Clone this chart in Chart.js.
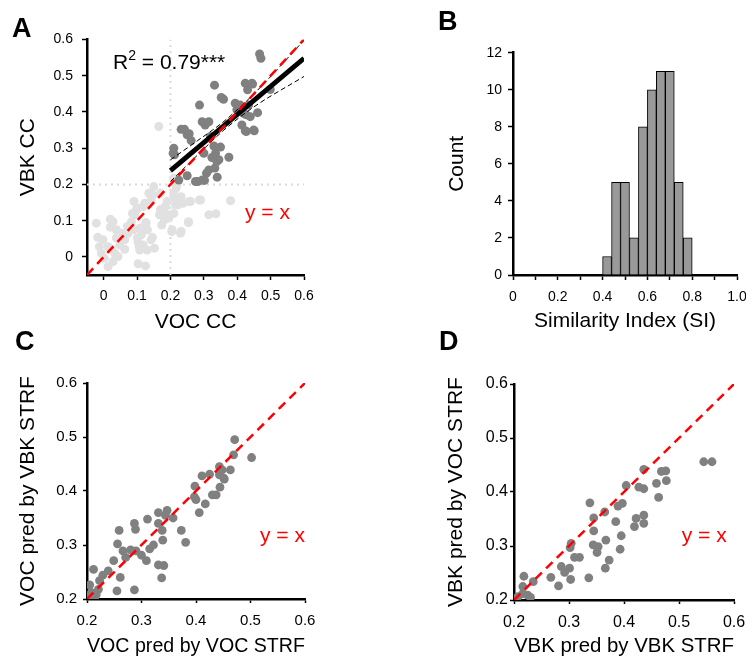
<!DOCTYPE html>
<html>
<head>
<meta charset="utf-8">
<script src="https://cdn.jsdelivr.net/npm/chart.js@4.4.1/dist/chart.umd.min.js"></script>
<style>
  html, body { margin: 0; padding: 0; background: #fff; overflow: hidden; }
  #fig { position: relative; width: 746px; height: 662px; overflow: hidden; background: #fff; }
  #fig canvas { position: absolute; }
</style>
</head>
<body>
<div id="fig">
  <canvas id="chartA" width="373" height="335" style="left:0;top:0"></canvas>
  <canvas id="chartB" width="400" height="335" style="left:373px;top:0"></canvas>
  <canvas id="chartC" width="373" height="337" style="left:0;top:325px"></canvas>
  <canvas id="chartD" width="400" height="337" style="left:373px;top:325px"></canvas>
</div>
<script>
// ---- Panel A: VOC CC vs VBK CC ----
// cells above 0.2 on both axes (dark)
const vocHi = [0.467,0.471,0.332,0.424,0.444,0.431,0.499,0.352,0.359,0.287,0.394,0.409,0.434,0.399,0.419,0.461,0.439,0.295,0.304,0.414,0.424,0.451,0.232,0.250,0.262,0.320,0.330,0.350,0.210,0.208,0.335,0.375,0.345,0.300,0.315,0.340,0.250,0.275,0.295,0.225,0.308,0.242,0.256,0.212,0.324,0.339,0.333,0.427,0.449,0.427,0.446,0.315,0.282,0.302];
const vbkHi = [0.560,0.548,0.474,0.479,0.479,0.461,0.462,0.440,0.435,0.419,0.424,0.419,0.419,0.406,0.396,0.398,0.387,0.373,0.364,0.364,0.348,0.348,0.352,0.337,0.321,0.332,0.306,0.303,0.300,0.286,0.286,0.275,0.268,0.286,0.240,0.220,0.224,0.208,0.212,0.212,0.231,0.352,0.340,0.282,0.274,0.263,0.245,0.392,0.350,0.346,0.477,0.373,0.208,0.211];
// remaining cells (light)
const vocLo = [0.165,0.380,0.336,0.287,0.257,0.232,0.237,0.222,0.217,0.210,0.254,0.232,0.204,0.210,0.192,0.182,0.174,0.170,0.167,0.185,0.147,0.142,0.123,0.118,0.091,0.098,0.093,0.083,0.127,0.108,0.113,0.103,0.118,0.142,0.152,0.130,0.108,0.103,0.125,0.028,0.020,0.038,0.053,0.063,0.038,0.048,0.063,0.023,0.033,0.013,-0.002,-0.013,-0.018,-0.022,-0.007,0.002,0.013,0.028,0.043,0.071,0.073,0.020,0.089,0.101,0.126,0.131,0.146,0.106,0.210,0.220,0.210,0.230,0.215,0.190,0.180,0.195,0.205,0.230,0.254,0.260,0.290,0.315,0.135,0.150,0.170,0.086,0.101];
const vbkLo = [0.360,0.155,0.119,0.157,0.153,0.166,0.148,0.144,0.190,0.159,0.095,0.070,0.070,0.120,0.116,0.102,0.088,0.130,0.116,0.139,0.171,0.157,0.148,0.139,0.153,0.130,0.116,0.097,0.093,0.079,0.061,0.042,0.033,0.047,0.024,0.019,0.019,-0.019,-0.025,0.097,0.082,0.075,0.065,0.047,0.052,0.033,0.021,0.021,0.010,0.028,0.047,0.028,0.054,0.093,0.010,-0.004,-0.027,-0.013,0.001,0.084,0.065,0.104,0.075,0.052,0.095,0.075,0.054,0.030,0.217,0.199,0.176,0.157,0.144,0.153,0.120,0.107,0.075,0.065,0.097,0.153,0.157,0.116,0.176,0.194,0.176,0.120,0.134];
// regression fit and its confidence band
const fitX = [0.2, 0.6];
const fitY = [0.238, 0.548];
const bandX = [0.2, 0.28, 0.36, 0.45, 0.6];
const bandUp = [0.268, 0.320, 0.374, 0.450, 0.598];
const bandLow = [0.208, 0.280, 0.350, 0.414, 0.498];
const ticksA = [0, 0.1, 0.2, 0.3, 0.4, 0.5, 0.6];

// ---- Panel B: similarity index histogram ----
const simBinCenters = [0.42, 0.46, 0.50, 0.54, 0.58, 0.62, 0.66, 0.70, 0.74, 0.78];
const simCounts = [1, 5, 5, 2, 8, 10, 11, 11, 5, 2];
const ticksSI = [0, 0.1, 0.2, 0.3, 0.4, 0.5, 0.6, 0.7, 0.8, 0.9, 1.0];
const ticksCount = [0, 2, 4, 6, 8, 10, 12];

// ---- Panel C: VOC pred by VOC STRF vs by VBK STRF ----
const vocByVoc = [0.471,0.469,0.502,0.443,0.448,0.463,0.411,0.425,0.443,0.452,0.444,0.398,0.397,0.400,0.430,0.437,0.417,0.406,0.331,0.347,0.344,0.358,0.311,0.331,0.287,0.289,0.338,0.373,0.259,0.381,0.339,0.322,0.315,0.256,0.266,0.280,0.290,0.300,0.309,0.271,0.249,0.331,0.341,0.337,0.261,0.239,0.229,0.212,0.223,0.255,0.287,0.205,0.221,0.208,0.217,0.204,0.214,0.451];
const vocByVbk = [0.495,0.467,0.462,0.445,0.439,0.439,0.428,0.431,0.430,0.422,0.407,0.409,0.389,0.384,0.393,0.393,0.376,0.360,0.360,0.364,0.355,0.350,0.348,0.340,0.340,0.329,0.327,0.327,0.327,0.305,0.309,0.300,0.293,0.302,0.289,0.291,0.289,0.281,0.271,0.277,0.271,0.263,0.262,0.239,0.240,0.252,0.244,0.255,0.234,0.215,0.217,0.226,0.218,0.212,0.208,0.205,0.202,0.424];

// ---- Panel D: VBK pred by VBK STRF vs by VOC STRF ----
const vbkByVbk = [0.545,0.560,0.436,0.468,0.476,0.477,0.459,0.463,0.404,0.427,0.436,0.389,0.397,0.338,0.365,0.345,0.385,0.419,0.422,0.436,0.436,0.345,0.367,0.395,0.393,0.344,0.353,0.351,0.373,0.366,0.336,0.304,0.302,0.310,0.319,0.286,0.292,0.301,0.303,0.267,0.281,0.218,0.216,0.235,0.216,0.207,0.225,0.230];
const vbkByVoc = [0.456,0.456,0.442,0.438,0.439,0.421,0.416,0.390,0.412,0.409,0.406,0.374,0.379,0.380,0.363,0.352,0.345,0.336,0.351,0.357,0.342,0.328,0.311,0.319,0.294,0.302,0.299,0.288,0.274,0.259,0.241,0.305,0.297,0.279,0.279,0.262,0.251,0.259,0.238,0.242,0.226,0.244,0.225,0.234,0.212,0.206,0.209,0.205];
const ticksPred = [0.2, 0.3, 0.4, 0.5, 0.6];

const FONT = "'Liberation Sans', Arial, Helvetica, sans-serif";
Chart.defaults.font.family = FONT;
Chart.defaults.color = '#000';

const pts = (xs, ys) => xs.map((x, i) => ({x: x, y: ys[i]}));

// draws panel letters and in-plot notes
const notesPlugin = {
  id: 'notes',
  afterDraw(chart, args, opts) {
    const ctx = chart.ctx;
    (opts.items || []).forEach(it => {
      ctx.save();
      ctx.textBaseline = 'alphabetic';
      ctx.textAlign = 'left';
      ctx.fillStyle = it.color || '#000';
      let x = it.x;
      it.parts.forEach(p => {
        ctx.font = p.font + ' ' + FONT;
        ctx.fillText(p.text, x, it.y + (p.dy || 0));
        x += ctx.measureText(p.text).width;
      });
      ctx.restore();
    });
  }
};

function fmt1(v) { return v === 0 ? '0' : v.toFixed(1); }

function axis(o) {
  return {
    type: 'linear', min: o.min, max: o.max, bounds: 'data', offset: false,
    border: { display: true, color: '#000', width: 2.5 },
    grid: { drawOnChartArea: false, drawTicks: true, tickLength: o.tl || 5, tickWidth: 1.5, tickColor: '#000', offset: false },
    ticks: { font: { size: o.fs || 14 }, color: '#000', padding: o.pad, maxRotation: 0, autoSkip: false, callback: o.fmt || fmt1 },
    afterBuildTicks: s => { s.ticks = o.ticks.map(v => ({value: v})); },
    afterFit: s => { if (o.w) s.width = o.w; if (o.h) s.height = o.h; },
    title: { display: true, text: o.title, font: { size: 21 }, color: '#000', padding: o.tpad }
  };
}

function baseOptions(pad, x, y, notes) {
  return {
    responsive: false, animation: false, devicePixelRatio: 1,
    layout: { padding: pad },
    plugins: { legend: { display: false }, tooltip: { enabled: false }, notes: { items: notes } },
    scales: { x: x, y: y }
  };
}

const letter = (t, x, y) => ({ x: x, y: y, parts: [{ text: t, font: 'bold 27px' }] });
const yEqX = (x, y) => ({ x: x, y: y, color: '#f00', parts: [{ text: 'y = x', font: '21px' }] });

function scatterSet(xs, ys, color, r, order) {
  return { data: pts(xs, ys), backgroundColor: color, borderWidth: 0, pointRadius: r, pointHoverRadius: r, showLine: false, order: order };
}
function lineSet(xs, ys, color, width, dash, order, curve) {
  const d = { data: pts(xs, ys), borderColor: color, borderWidth: width, borderDash: dash, pointRadius: 0, showLine: true, fill: false, order: order };
  if (curve) { d.cubicInterpolationMode = 'monotone'; d.tension = 0.4; }
  return d;
}

// Panel A
new Chart(document.getElementById('chartA'), {
  type: 'scatter',
  data: { datasets: [
    lineSet([0.2, 0.2], [-0.05, 0.6], '#d9d9d9', 2, [2, 4], 9),
    lineSet([-0.05, 0.6], [0.2, 0.2], '#d9d9d9', 2, [2, 4], 9),
    scatterSet(vocLo, vbkLo, '#e1e1e1', 4.5, 8),
    scatterSet(vocHi, vbkHi, '#808080', 4.5, 7),
    lineSet(bandX, bandUp, '#000', 1, [5, 3], 5, true),
    lineSet(bandX, bandLow, '#000', 1, [5, 3], 5, true),
    lineSet(fitX, fitY, '#000', 5, [], 4),
    lineSet([-0.05, 0.6], [-0.05, 0.6], '#f00', 2.5, [9, 6], 3)
  ]},
  options: baseOptions({ left: 0, top: 39.5, right: 69, bottom: 0 },
    axis({ min: -0.05, max: 0.6, ticks: ticksA, pad: 8, h: 60, title: 'VOC CC', tpad: { top: 0, bottom: 0.5 } }),
    axis({ min: -0.05, max: 0.6, ticks: ticksA, pad: 9, w: 87, title: 'VBK CC', tpad: { top: 15.4, bottom: 0 } }),
    [ letter('A', 12, 37),
      { x: 113, y: 69, parts: [ { text: 'R', font: '21px' }, { text: '2', font: '14px', dy: -9 }, { text: ' = 0.79***', font: '21px' } ] },
      yEqX(245, 218.5) ]),
  plugins: [notesPlugin]
});

// Panel B
new Chart(document.getElementById('chartB'), {
  type: 'bar',
  data: { datasets: [{
    data: pts(simBinCenters, simCounts),
    backgroundColor: '#999999', borderColor: '#000', borderWidth: 1,
    barPercentage: 1, categoryPercentage: 1
  }]},
  options: baseOptions({ left: 60, top: 52.7, right: 36, bottom: 0 },
    axis({ min: 0, max: 1, ticks: ticksSI, pad: 9, h: 60, title: 'Similarity Index (SI)', tpad: { top: 0, bottom: 0.9 },
      fmt: v => (Math.round(v * 10) % 2 ? '' : fmt1(v)) }),
    axis({ min: 0, max: 12, ticks: ticksCount, pad: 6, w: 80, title: 'Count', tpad: { top: 11.4, bottom: 0 },
      fmt: v => String(v) }),
    [ letter('B', 65, 30) ]),
  plugins: [notesPlugin]
});

// Panel C
new Chart(document.getElementById('chartC'), {
  type: 'scatter',
  data: { datasets: [
    scatterSet(vocByVoc, vocByVbk, '#808080', 4.4, 5),
    lineSet([0.2, 0.6], [0.2, 0.6], '#f00', 2.5, [9, 6], 3)
  ]},
  options: baseOptions({ left: 0, top: 58, right: 68, bottom: 0 },
    axis({ min: 0.2, max: 0.6, ticks: ticksPred, pad: 9, fs: 15, tl: 4, h: 63, title: 'VOC pred by VOC STRF', tpad: { top: 0, bottom: 3.6 } }),
    axis({ min: 0.2, max: 0.6, ticks: ticksPred, pad: 6, fs: 15, tl: 4, w: 87, title: 'VOC pred by VBK STRF', tpad: { top: 15.7, bottom: 0 } }),
    [ letter('C', 15, 25), yEqX(260, 217) ]),
  plugins: [notesPlugin]
});

// Panel D
new Chart(document.getElementById('chartD'), {
  type: 'scatter',
  data: { datasets: [
    scatterSet(vbkByVbk, vbkByVoc, '#808080', 4.4, 5),
    lineSet([0.2, 0.6], [0.2, 0.6], '#f00', 2.5, [9, 6], 3)
  ]},
  options: baseOptions({ left: 60, top: 59, right: 39, bottom: 0 },
    axis({ min: 0.2, max: 0.6, ticks: ticksPred, pad: 9, fs: 16, tl: 4, h: 62, title: 'VBK pred by VBK STRF', tpad: { top: 0, bottom: 3.6 } }),
    axis({ min: 0.2, max: 0.6, ticks: ticksPred, pad: 2, fs: 16, tl: 4, w: 81, title: 'VBK pred by VOC STRF', tpad: { top: 11.1, bottom: 0 } }),
    [ letter('D', 66, 25), yEqX(308.7, 217) ]),
  plugins: [notesPlugin]
});
</script>
</body>
</html>
